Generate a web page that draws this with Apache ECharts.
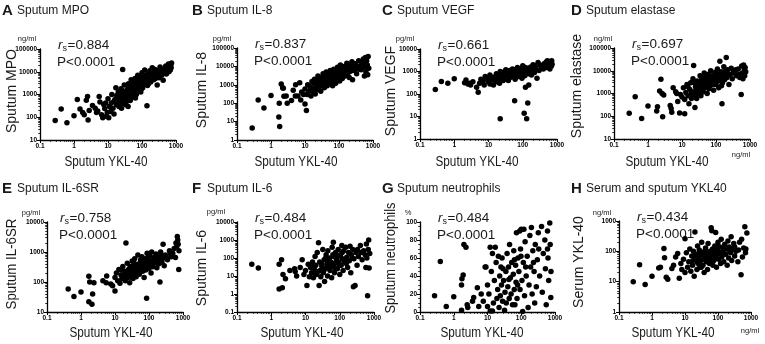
<!DOCTYPE html>
<html><head><meta charset="utf-8">
<script src="https://cdn.jsdelivr.net/npm/echarts@6/dist/echarts.min.js"></script>
<style>html,body{margin:0;padding:0;background:#fff}#c{width:765px;height:344px}</style>
</head><body><div id="c"></div>
<script>
// x axis: Sputum YKL-40 (ng/ml), log 0.1 - 1000
const xTicks = [0.1, 1, 10, 100, 1000];

const mpoPoints = [[0.28,72],[0.42,230],[0.62,57],[1.0,115],[1.25,600],[1.5,230],[1.8,160],[2.0,130],[2.3,560],[2.5,820],[2.6,75],[2.8,200],[3.5,330],[4.2,250],[4.6,160],[5.0,190],[5.5,820],[5.8,470],[6.5,130],[7.0,95],[7.5,360],[8.0,240],[8.5,420],[9.0,110],[9.5,160],[10,650],[10.5,95],[11,300],[12,180],[12.5,420],[13,1000],[14,250],[15,140],[16,600],[17,2000],[18,350],[19,700],[20,1300],[21,300],[22,500],[23,900],[24,1800],[25,250],[26,400],[27,12500],[28,650],[29,1100],[30,2600],[31,420],[32,800],[33,350],[34,600],[35,1500],[36,500],[38,700],[39,300],[40,3000],[42,1000],[44,1800],[45,550],[46,600],[48,4500],[50,1200],[52,2200],[54,900],[55,800],[58,3500],[60,1500],[62,5000],[64,700],[65,2500],[68,1000],[70,3000],[72,1700],[75,7000],[78,1800],[80,4000],[85,2200],[88,2500],[90,6000],[92,1300],[95,3500],[100,9000],[105,2000],[110,5000],[115,3000],[120,12000],[125,7000],[130,4000],[140,320],[145,2500],[150,8000],[160,5000],[170,11000],[180,3500],[190,6500],[200,15000],[210,9000],[220,4500],[230,13000],[240,7000],[260,12000],[280,2600],[300,8000],[320,5500],[340,16000],[350,10000],[380,7000],[420,4200],[450,12000],[480,9000],[500,18000],[520,8000],[560,14000],[600,22000],[620,10000],[650,16000],[680,12000],[700,20000],[720,15000],[740,24000],
  [15,500],[18,900],[22,700],[26,1500],[30,450],[34,1200],[37,2500],[43,700],[47,2000],[53,3000],[57,1100],[63,2000],[67,4000],[73,2500],[83,5000],[97,1800],[108,3500],[135,6000],[155,3000],[175,7500],[250,5000],[290,10000],[400,13000],[550,11000]];

const il8Points = [[0.28,4.5],[0.42,150],[0.62,55],[1.0,260],[1.7,18],[1.75,100],[1.8,5.5],[2.0,1100],[2.2,700],[2.3,650],[2.4,240],[2.8,250],[3.0,100],[4.0,140],[4.5,500],[5.2,250],[5.3,1000],[6.2,250],[7.0,1300],[7.5,150],[8.0,400],[9.0,300],[10,90],[10,600],[11,40],[11.5,300],[12,1000],[13,450],[14,800],[15,250],[16,1500],[17,600],[18,350],[19,2000],[20,320],[21,900],[22,1300],[23,550],[24,3000],[25,700],[26,1800],[28,1100],[29,450],[30,2500],[32,900],[34,4000],[35,1400],[37,700],[38,2200],[40,1200],[42,5000],[44,1700],[45,900],[47,3000],[50,2000],[52,1300],[55,6000],[58,2600],[60,1500],[62,4000],[65,900],[68,3000],[70,7000],[75,2000],[78,4500],[80,1200],[85,3500],[90,9000],[95,2500],[100,5000],[105,1600],[110,12000],[115,3500],[120,7000],[125,2200],[130,4500],[140,10000],[150,3000],[160,6000],[170,15000],[180,4000],[190,8000],[200,2500],[210,12000],[220,5500],[240,18000],[250,1900],[260,9000],[280,6000],[300,14000],[330,4000],[350,8000],[380,20000],[420,11000],[450,6500],[500,15000],[520,25000],[560,3000],[580,9000],[600,30000],[620,5000],[650,20000],[680,12000],[700,3500],[720,35000],[750,8000],
  [15,600],[19,1100],[27,1500],[33,2000],[36,3500],[43,2600],[48,1500],[53,4000],[64,2000],[72,3500],[88,5500],[98,8000],[108,3000],[135,6500],[165,9000],[230,7000],[270,13000],[320,10000],[400,7000],[470,18000],[550,12000]];

const vegfPoints = [[0.28,160],[0.42,360],[0.65,300],[1.0,480],[2.0,320],[2.2,420],[2.5,280],[2.8,300],[3.0,250],[3.5,350],[4.5,200],[5.0,120],[5.5,300],[6,450],[7,380],[7.5,250],[8,600],[9,500],[10,350],[11,280],[11,700],[12,450],[13,550],[14,250],[15,400],[16,600],[17,800],[18,350],[19,500],[20,700],[21,300],[22,1000],[22,8],[24,450],[25,600],[26,900],[27,400],[28,550],[30,750],[32,1200],[33,500],[35,650],[36,900],[38,400],[40,700],[42,1100],[45,550],[48,800],[50,1300],[52,650],[55,950],[58,50],[60,450],[62,700],[65,1100],[68,850],[70,1500],[75,600],[80,1000],[85,1300],[90,750],[95,500],[100,1800],[105,900],[110,14],[110,1200],[115,650],[120,200],[125,1000],[130,8],[135,1400],[140,40],[145,800],[150,250],[160,1100],[170,1600],[180,700],[190,1200],[200,2000],[220,900],[240,1400],[260,500],[280,2500],[300,1100],[350,1600],[400,1300],[450,1900],[480,2600],[500,1500],[520,3000],[550,2200],[580,1800],[600,2800],[620,1300],[650,2400],[680,1700],[700,3000],[720,2100],
  [15,500],[19,650],[23,550],[29,800],[34,500],[37,1000],[43,700],[47,900],[53,750],[63,1200],[73,900],[88,800],[98,1100],[118,1500],[155,1300],[230,1800],[330,1900],[420,2200]];

const elastasePoints = [[0.28,135],[0.42,720],[0.65,80],[1.0,280],[1.8,170],[1.9,260],[2.2,1300],[2.4,4200],[2.6,1000],[2.7,95],[2.9,850],[4.5,300],[4.8,220],[5.0,150],[5.5,1800],[6.5,1200],[7.0,1000],[7.5,450],[8.5,140],[9.0,900],[10,700],[11,1800],[12,130],[12,550],[13,1100],[14,2500],[15,800],[16,350],[17,1500],[18,3000],[19,600],[20,1200],[21,4500],[22,17000],[23,900],[24,240],[25,2000],[26,1400],[27,600],[28,3500],[30,1000],[32,2500],[34,6000],[35,1500],[36,800],[38,4000],[40,2200],[42,1200],[44,3000],[45,8000],[48,1800],[50,5000],[52,2500],[55,1000],[58,3500],[60,7000],[62,1600],[65,4500],[68,2200],[70,10000],[75,3000],[80,6000],[85,1400],[90,4000],[95,8500],[100,2500],[105,5500],[110,12000],[115,3500],[120,1800],[125,7000],[130,26000],[135,4500],[140,9000],[150,350],[155,3000],[160,6000],[170,15000],[180,4000],[190,8000],[200,38000],[210,5000],[220,11000],[240,2500],[260,7000],[280,13000],[300,4500],[350,9000],[400,6000],[450,12000],[500,5000],[550,900],[570,16000],[600,8000],[620,4500],[650,18000],[680,11000],[700,6000],[720,14000],[750,9000],
  [15,2000],[19,1000],[23,3000],[29,1800],[33,1200],[37,2800],[43,5000],[47,2500],[53,3800],[63,3000],[73,5500],[88,2500],[98,5000],[118,6500],[145,2200],[175,9000],[230,6500],[320,8000],[380,11000],[480,7000]];

const il6srPoints = [[0.42,58],[0.62,33],[1.0,46],[1.7,155],[1.7,22],[1.8,100],[2.1,18],[2.2,40],[2.4,95],[4.4,110],[5.5,95],[5.7,160],[7.5,85],[8.5,75],[10,50],[10,140],[11,200],[12,110],[13,260],[14,90],[15,170],[16,130],[17,330],[18,150],[19,230],[20,110],[21,2000],[22,180],[23,420],[24,140],[25,260],[26,200],[27,95],[28,330],[30,160],[32,500],[33,230],[34,130],[35,300],[37,190],[38,600],[40,250],[42,150],[44,380],[45,210],[47,800],[50,300],[52,180],[55,450],[58,260],[60,350],[62,700],[65,230],[68,500],[70,300],[72,140],[75,600],[78,400],[80,250],[85,29],[88,900],[90,350],[95,550],[100,280],[105,750],[110,400],[115,200],[120,1000],[125,500],[130,320],[140,650],[150,450],[160,850],[170,300],[180,550],[190,400],[200,700],[210,100],[220,1000],[240,450],[250,600],[260,1800],[280,350],[300,800],[350,550],[400,1100],[450,700],[500,900],[550,1300],[600,650],[620,2000],[650,1500],[680,3300],[700,2500],[720,1800],[750,260],[760,1100],
  [15,250],[19,160],[23,200],[29,280],[31,140],[36,420],[41,180],[46,300],[53,380],[57,550],[63,320],[73,450],[83,400],[93,650],[98,420],[118,350],[135,550],[155,600],[195,500],[230,800],[320,700],[420,900]];

const il6Points = [[0.27,45],[0.42,28],[1.7,1.9],[1.7,45],[2.0,80],[2.1,2.2],[2.2,12],[2.6,7],[3.5,20],[4.8,25],[5.0,18],[5.5,10],[7.0,30],[8.0,80],[9.0,12],[10,20],[11,3],[12,45],[13,9],[14,30],[15,15],[16,60],[17,8],[18,25],[19,120],[20,40],[21,12],[22,200],[23,18],[24,700],[25,3],[26,60],[27,20],[28,9],[30,35],[32,300],[33,15],[35,80],[36,5],[38,25],[40,150],[42,45],[44,10],[45,250],[48,30],[50,100],[52,20],[55,60],[58,8],[60,400],[62,35],[65,750],[68,120],[70,15],[72,50],[75,200],[80,80],[85,25],[90,300],[95,60],[100,12],[105,150],[110,40],[115,500],[120,90],[125,20],[130,250],[140,60],[150,400],[160,110],[170,30],[180,200],[190,70],[200,450],[210,15],[220,150],[240,300],[250,2.5],[260,90],[280,3],[300,200],[320,40],[350,120],[400,500],[450,80],[500,250],[550,150],[580,30],[600,600],[620,100],[650,0.8],[680,300],[700,1000],[720,28],[750,180],
  [15,40],[19,15],[29,50],[34,20],[39,100],[46,60],[53,40],[63,150],[73,25],[88,120],[98,40],[118,200],[135,80],[155,50],[230,100],[330,300],[420,200]];

const neutroPoints = [[0.27,18],[0.4,56],[0.6,6],[1.0,17],[1.7,2],[1.7,30],[1.75,37],[1.9,41],[2.0,75],[2.3,72],[2.5,8],[2.6,5],[3.6,12],[3.9,16],[5.0,27],[5.5,6],[6.5,20],[7.5,12],[8.5,50],[9.0,50],[10,6],[10,30],[11,20],[12,1],[12,72],[13,45],[14,1],[14,65],[15,10],[16,35],[17,72],[18,55],[19,15],[20,25],[21,62],[22,5],[23,40],[24,18],[25,50],[26,30],[27,60],[28,12],[30,35],[32,2],[33,22],[35,45],[36,10],[38,65],[40,28],[42,50],[44,15],[45,75],[48,38],[50,20],[52,55],[55,8],[58,42],[60,68],[62,25],[65,8],[68,52],[70,33],[72,88],[75,15],[80,60],[85,45],[90,90],[92,25],[95,70],[100,92],[105,35],[110,0.5],[115,55],[120,92],[125,18],[130,78],[140,40],[150,62],[160,5],[170,30],[180,85],[190,50],[200,94],[210,20],[220,68],[240,45],[250,10],[260,75],[280,28],[300,58],[320,88],[350,40],[400,95],[420,22],[450,65],[500,80],[520,48],[550,8],[600,90],[620,60],[650,35],[700,99],[720,75],[750,16],[760,45],
  [29,48],[43,36],[63,58],[78,30],[98,62],[135,50],[230,55],[330,70],[600,70]];

const serumPoints = [[0.27,10],[0.42,36],[0.62,8],[1.0,15],[1.6,28],[1.8,30],[2.3,125],[2.4,62],[2.7,14],[3.0,12],[4.0,27],[4.5,35],[5.2,65],[6.0,85],[6.7,13],[7.5,40],[8.0,25],[9.0,55],[10,260],[10,20],[11,90],[12,30],[13,45],[14,120],[15,22],[16,70],[17,35],[18,100],[19,15],[20,430],[21,55],[22,80],[23,25],[24,150],[25,40],[26,65],[27,110],[28,30],[30,50],[32,200],[33,75],[35,35],[36,95],[38,20],[40,60],[42,130],[44,45],[45,80],[48,25],[50,180],[52,60],[55,40],[58,100],[60,70],[62,600],[65,480],[68,120],[70,35],[72,90],[75,50],[80,150],[85,420],[88,75],[90,30],[95,110],[100,200],[105,55],[110,85],[115,140],[120,40],[125,250],[130,65],[140,100],[150,45],[160,170],[170,80],[180,120],[190,35],[200,220],[210,60],[220,140],[240,90],[250,300],[260,50],[280,120],[300,180],[320,70],[350,100],[400,45],[450,200],[500,17],[520,250],[550,65],[600,130],[650,650],[680,90],[700,120],[750,400],
  [16,45],[19,60],[23,45],[29,90],[31,30],[37,55],[41,100],[47,65],[53,90],[57,55],[63,40],[67,85],[78,110],[83,60],[93,80],[98,150],[118,90],[135,75],[155,130],[230,100],[320,140],[420,110]];

const letters = ['A','B','C','D','E','F','G','H'];
const titles = ['Sputum MPO','Sputum IL-8','Sputum VEGF','Sputum elastase','Sputum IL-6SR','Sputum IL-6','Sputum neutrophils','Serum and sputum YKL40'];
const yNames = ['Sputum MPO','Sputum IL-8','Sputum VEGF','Sputum elastase','Sputum IL-6SR','Sputum IL-6','Sputum neutrophils','Serum YKL-40'];
const yUnits = ['ng/ml','pg/ml','pg/ml','ng/ml','pg/ml','pg/ml','%','ng/ml'];
const rsValues = ['0.884','0.837','0.661','0.697','0.758','0.484','0.484','0.434'];
const pText = 'P<0.0001';
const xName = 'Sputum YKL-40';
const yRanges = [[10,100000],[1,100000],[1,10000],[10,100000],[10,10000],[0.1,10000],[0,100],[1,1000]];
const datasets = [mpoPoints, il8Points, vegfPoints, elastasePoints, il6srPoints, il6Points, neutroPoints, serumPoints];

// layout (pixels)
const L = [
  {g:[40,49,136,91], yn:[12,91,1], xn:106, un:[27,39]},
  {g:[237,48,136,92], yn:[202,90,1], xn:296, un:[222,39]},
  {g:[420,49,137,90], yn:[391,91,1], xn:477, un:[405,39]},
  {g:[614,48,136,91], yn:[577,86,1], xn:667, un:[603,39]},
  {g:[47,222,136,90], yn:[12,264,0.95], xn:111, un:[31,213]},
  {g:[237,222,137,90], yn:[202,268,1], xn:302, un:[216,212]},
  {g:[420,222,135,90], yn:[391,258,0.92], xn:482, un:[408,213]},
  {g:[619,221,132,91], yn:[579,262,1], xn:673, un:[602,213]}
];

const FONT = "'Liberation Sans', Arial, sans-serif";
const TXT = '#1a1a1a';
const fmt = v => { const n = +(+v).toPrecision(6); return String(n); };

const grids = [], xAxes = [], yAxes = [], series = [], graphics = [];
function T(x, y, text, size, opts) {
  opts = opts || {};
  return Object.assign({
    type: 'text', x: x, y: y, silent: true,
    style: {
      text: text, fill: TXT,
      font: (opts.bold ? 'bold ' : '') + (opts.italic ? 'italic ' : '') + size + 'px ' + FONT,
      textAlign: opts.align || 'left', align: opts.align || 'left',
      textVerticalAlign: 'middle', verticalAlign: 'middle'
    }
  }, opts.extra || {});
}

for (let i = 0; i < 8; i++) {
  const l = L[i];
  const row2 = i >= 4;
  const col = i % 4;
  grids.push({left: l.g[0], top: l.g[1], width: l.g[2], height: l.g[3], outerBoundsMode: 'none', containLabel: false});
  const axisCommon = {
    gridIndex: i,
    axisLine: {show: true, onZero: false, lineStyle: {color: '#000', width: 1.3}},
    axisTick: {show: true, length: 3, lineStyle: {color: '#000', width: 1}},
    splitLine: {show: false},
    axisLabel: {fontSize: 6.5, fontWeight: 'bold', color: '#000', fontFamily: FONT, margin: 3, formatter: fmt, showMinLabel: true, showMaxLabel: true}
  };
  xAxes.push(Object.assign({}, axisCommon, {
    type: 'log', logBase: 10, min: xTicks[0], max: xTicks[xTicks.length - 1], splitNumber: 4,
    minorTick: {show: true, splitNumber: 9, length: 1.8, lineStyle: {color: '#000', width: 0.8}}
  }));
  const yr = yRanges[i];
  if (i === 6) {
    yAxes.push(Object.assign({}, axisCommon, {type: 'value', min: yr[0], max: yr[1], interval: 20,
      minorTick: {show: true, splitNumber: 4, length: 1.8, lineStyle: {color: '#000', width: 0.8}}}));
  } else {
    const dec = Math.round(Math.log10(yr[1] / yr[0]));
    yAxes.push(Object.assign({}, axisCommon, {type: 'log', logBase: 10, min: yr[0], max: yr[1], splitNumber: dec,
      minorTick: {show: true, splitNumber: 9, length: 1.8, lineStyle: {color: '#000', width: 0.8}}}));
  }
  series.push({
    type: 'scatter', xAxisIndex: i, yAxisIndex: i, data: datasets[i],
    symbol: 'circle', symbolSize: 5.5, itemStyle: {color: '#000', opacity: 1}, silent: true, animation: false
  });

  // panel letter + title
  const px = 2 + col * 190 - (col === 3 ? 1 : 0);
  const py = row2 ? 189 : 11;
  graphics.push(T(px, py, letters[i], 15, {bold: true}));
  graphics.push(T(px + 15, py, titles[i], 12));
  // y-axis name (rotated)
  graphics.push(T(l.yn[0], l.yn[1], yNames[i], 14, {align: 'center', extra: {rotation: Math.PI / 2, scaleX: l.yn[2]}}));
  // x-axis name
  graphics.push(T(l.xn, row2 ? 333 : 162, xName, 14, {align: 'center', extra: {scaleX: 0.84}}));
  // unit
  graphics.push(T(l.un[0], l.un[1], yUnits[i], 7.5, {align: 'center'}));
  // correlation text
  const rx = l.g[0] + 18 + (i === 4 ? -5 : 0);
  const ry = l.g[1] - 4;
  graphics.push(T(rx, ry, 'r', 13.5, {italic: true}));
  graphics.push(T(rx + 4.5, ry + 4, 's', 9));
  graphics.push(T(rx + 9.5, ry, '=' + rsValues[i], 13.5));
  graphics.push(T(rx - 1, ry + 17, pText, 13.5));
}
// trailing unit labels on x axes of D and H
graphics.push(T(741, 155, 'ng/ml', 7.5, {align: 'center'}));
graphics.push(T(750, 331, 'ng/ml', 7.5, {align: 'center'}));

const chart = echarts.init(document.getElementById('c'), null, {renderer: 'canvas'});
chart.setOption({
  animation: false,
  backgroundColor: '#fff',
  grid: grids, xAxis: xAxes, yAxis: yAxes, series: series,
  graphic: {elements: graphics}
});
</script></body></html>
